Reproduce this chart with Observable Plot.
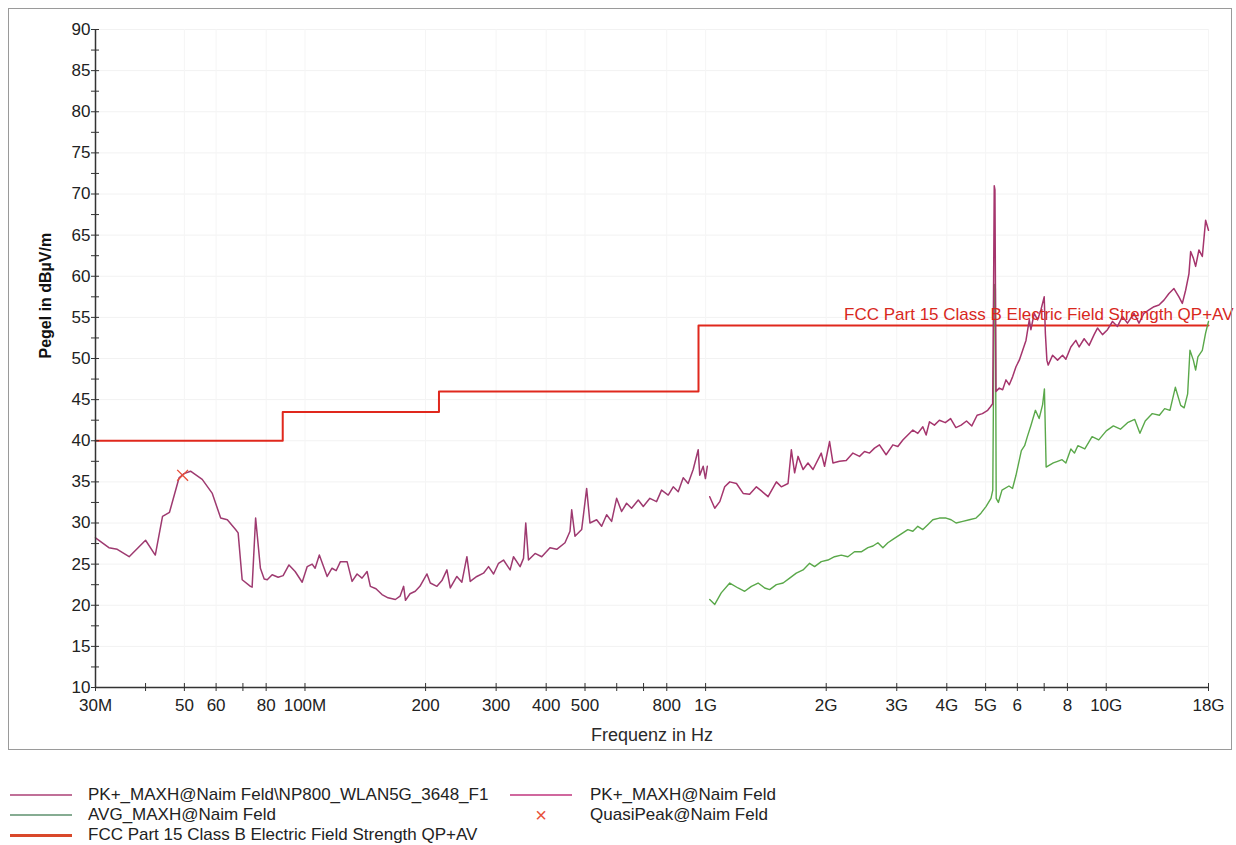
<!DOCTYPE html>
<html><head><meta charset="utf-8">
<script src="https://cdn.jsdelivr.net/npm/d3@7"></script>
<script src="https://cdn.jsdelivr.net/npm/@observablehq/plot@0.6"></script>
<style>
body{margin:0;background:#fff;font-family:"Liberation Sans",Arial,sans-serif;}
#wrap{position:relative;width:1236px;height:845px;overflow:hidden;}
#chart{position:absolute;left:0;top:0;}
#border{position:absolute;left:8px;top:8px;width:1224px;height:742px;border:1px solid #9a9a9a;box-sizing:border-box;pointer-events:none;}
.leg{position:absolute;font-size:17px;line-height:20px;color:#222;white-space:nowrap;}
.sw{position:absolute;width:62px;}
.mk{position:absolute;font-size:20px;line-height:20px;width:20px;text-align:center;}
</style></head>
<body><div id="wrap"><div id="chart"></div><div id="border"></div><div id="legend"></div></div>
<script>
// ---- data (frequency in MHz, level in dBµV/m) ----
const pkLowFreq = [30,32.4,34.0,36.4,40.0,42.3,44.1,45.9,48.5,49.9,51.8,55.4,58.7,61.6,64.0,67.1,68.1,69.7,73.1,73.8,75.3,77.4,79.1,80.5,82.8,85.7,88.2,91.2,94.5,98.4,101.3,104.2,106.0,108.6,113.6,116.8,119.6,122.6,127.4,131.1,134.9,138.8,142.9,145.6,150.4,155.7,161.2,168.1,172.7,176.3,178.2,182.9,188.5,193.6,201.6,205.5,213.5,219.7,226.1,230.5,239.4,246.4,253.6,258.5,268.5,279.0,287.2,295.6,304.2,313.0,325.1,331.5,344.3,351.1,355.7,361.3,375.3,389.9,408.9,425.0,445.7,458.7,463.2,472.0,490.5,504.8,514.4,534.6,550.2,566.2,582.7,599.6,617.1,635.0,653.5,679.1,698.9,725.9,754.3,776.3,806.7,830.2,854.4,879.3,904.7,931.1,958.3,966.9,986.1,999,1010];
const pkLowVal = [28.2,27.0,26.8,25.9,27.9,26.1,30.8,31.3,35.5,36.0,36.3,35.3,33.6,30.6,30.4,29.2,28.8,23.1,22.3,22.2,30.6,24.5,23.2,23.1,23.7,23.4,23.6,24.9,24.1,22.8,24.7,25.0,24.5,26.1,23.5,24.5,24.2,25.3,25.3,22.9,23.8,23.3,24.1,22.3,22.0,21.3,20.9,20.7,21.1,22.3,20.6,21.4,21.7,22.3,23.8,22.7,22.3,23.0,24.3,22.1,23.5,22.8,25.9,22.9,23.5,23.9,24.7,23.8,25.1,25.5,24.3,25.9,24.7,25.7,30.0,25.5,26.3,25.9,27.0,26.8,27.6,29.0,31.6,28.4,29.2,34.2,30.0,30.4,29.6,31.0,30.2,33.0,31.4,32.4,31.8,32.8,32.0,33.0,32.6,34.0,33.4,34.4,33.8,35.5,34.8,36.5,38.9,35.8,36.9,35.4,36.9];

const pkHighFreq = [1024,1054,1085,1116,1149,1194,1241,1288,1339,1378,1432,1502,1545,1606,1637,1668,1701,1751,1801,1854,1944,1981,2039,2079,2159,2244,2332,2422,2493,2566,2640,2716,2822,2934,3019,3107,3197,3291,3386,3485,3552,3620,3725,3833,3965,4088,4214,4344,4480,4618,4761,4908,5059,5135,5206,5236,5254,5275,5306,5408,5514,5620,5728,5841,5953,6067,6187,6305,6426,6486,6610,6741,6870,7001,7049,7110,7163,7346,7560,7780,7929,8160,8397,8558,8807,9063,9327,9510,9787,10072,10366,10667,10977,11297,11731,12073,12424,12786,13158,13541,13935,14341,14758,15188,15488,15783,16086,16244,16497,16717,17036,17372,17704,18000];
const pkHighVal = [33.2,31.8,32.6,34.4,35.0,34.8,33.6,33.5,34.4,33.9,33.2,35.0,34.4,34.8,38.9,36.1,38.1,36.5,37.3,36.5,38.5,36.9,39.9,37.3,37.5,37.6,38.5,38.1,38.7,38.5,39.1,39.5,38.3,39.5,39.3,40.1,40.7,41.3,40.9,41.7,40.7,42.3,41.9,42.5,42.2,42.7,41.6,41.9,42.4,41.8,43.1,43.3,43.7,44.1,44.5,60.0,71.0,70.5,46.0,46.4,46.2,47.4,46.8,47.8,49.0,49.8,51.0,52.2,54.7,53.5,55.5,54.7,55.9,57.5,53.0,49.8,49.2,50.4,49.8,50.4,49.9,51.4,52.2,51.4,52.4,51.6,52.9,53.7,52.9,53.5,54.5,53.9,55.1,54.3,55.5,54.3,55.5,55.9,56.3,56.5,57.1,57.9,58.5,57.5,56.7,58.3,60.3,63.0,62.2,61.2,63.2,62.4,66.8,65.6];

const avgFreq = [1024,1054,1094,1149,1205,1252,1301,1352,1404,1445,1502,1561,1621,1684,1751,1818,1871,1944,2020,2098,2181,2266,2353,2446,2542,2616,2692,2770,2851,2934,3019,3107,3197,3291,3386,3485,3586,3691,3833,3983,4100,4219,4384,4553,4731,4868,5010,5156,5210,5254,5288,5313,5380,5493,5718,5836,5953,6140,6256,6355,6481,6657,6800,6938,7010,7079,7377,7560,7758,7929,8160,8330,8495,8842,9219,9580,10002,10419,10851,11303,11774,12137,12512,13032,13572,13991,14422,14876,15340,15650,15967,16180,16497,16717,16937,17372,17704,18000];
const avgVal = [20.7,20.1,21.5,22.7,22.1,21.7,22.3,22.7,22.1,21.9,22.5,22.7,23.3,23.9,24.3,25.1,24.7,25.3,25.5,25.9,26.1,25.9,26.5,26.5,27.0,27.2,27.6,27.0,27.6,28.0,28.4,28.8,29.2,29.0,29.6,29.2,29.8,30.4,30.6,30.6,30.4,30.0,30.2,30.4,30.6,31.2,32.0,33.0,34.0,59.0,58.5,33.0,32.5,34.0,34.5,34.2,35.8,38.8,39.4,40.5,41.8,43.7,42.7,44.4,46.3,36.8,37.3,37.5,37.7,37.3,39.0,38.5,39.4,39.0,40.5,40.1,41.2,41.8,41.4,42.2,42.6,40.9,42.4,43.3,43.1,43.9,43.7,46.5,44.3,44.0,45.7,51.0,49.8,48.6,50.2,51.0,53.1,54.5];

const qpFreq = [49.5];
const qpVal = [35.8];

const limitFreq = [30, 88, 216, 960, 18000];
const limitVal = [40, 43.5, 46, 54, 54];
const limitName = "FCC Part 15 Class B Electric Field Strength QP+AV";

const xTicks = [30,40,50,60,70,80,100,200,300,400,500,600,700,800,1000,2000,3000,4000,5000,6000,7000,8000,10000,18000];
const xTickLabels = ["30M","","50","60","","80","100M","200","300","400","500","","","800","1G","2G","3G","4G","5G","6","","8","10G","18G"];
const yMajor = [10,15,20,25,30,35,40,45,50,55,60,65,70,75,80,85,90];
const yMinor = [12.5,17.5,22.5,27.5,32.5,37.5,42.5,47.5,52.5,57.5,62.5,67.5,72.5,77.5,82.5,87.5];

const legendItems = [
  {label: "PK+_MAXH@Naim Feld\\NP800_WLAN5G_3648_F1", color: "#c07098", kind: "line", col: 0, row: 0},
  {label: "PK+_MAXH@Naim Feld", color: "#d0689e", kind: "line", col: 1, row: 0},
  {label: "AVG_MAXH@Naim Feld", color: "#86ac92", kind: "line", col: 0, row: 1},
  {label: "QuasiPeak@Naim Feld", color: "#e8503a", kind: "x", col: 1, row: 1},
  {label: limitName, color: "#d9482a", kind: "thick", col: 0, row: 2}
];

// ---- build ----
const zip = (f, v) => f.map((d, i) => ({f: d, v: v[i]}));
const pkLow = zip(pkLowFreq, pkLowVal);
const pkHigh = zip(pkHighFreq, pkHighVal);
const avg = zip(avgFreq, avgVal);
const qp = zip(qpFreq, qpVal);
const limit = zip(limitFreq, limitVal);
const xLabels = xTicks.map((d, i) => ({f: d, label: xTickLabels[i]})).filter(d => d.label !== "");
const font = "'Liberation Sans', Arial, sans-serif";

const chart = Plot.plot({
  width: 1236, height: 760,
  marginLeft: 95, marginRight: 28, marginTop: 29, marginBottom: 73,
  style: {fontFamily: font, fontSize: "17px", color: "#2a2a2a", background: "#fff"},
  x: {type: "log", domain: [30, 18000]},
  y: {domain: [10, 90]},
  marks: [
    Plot.gridY(yMajor, {stroke: "#f2f2f2", strokeOpacity: 1}),
    Plot.gridX(xTicks.filter((d, i) => xTickLabels[i] !== ""), {stroke: "#f5f5f5", strokeOpacity: 1}),
    Plot.line(limit, {x: "f", y: "v", curve: "step-after", stroke: "#e0281d", strokeWidth: 2}),
    Plot.line(avg, {x: "f", y: "v", stroke: "#5aa84a", strokeWidth: 1.4}),
    Plot.line(pkLow, {x: "f", y: "v", stroke: "#9e3a70", strokeWidth: 1.5}),
    Plot.line(pkHigh, {x: "f", y: "v", stroke: "#a5356d", strokeWidth: 1.5}),
    Plot.dot(qp, {x: "f", y: "v", symbol: "times", r: 5, stroke: "#e8503a", strokeWidth: 1.4}),
    Plot.text([limit[limit.length - 1]], {x: "f", y: "v", text: () => limitName, textAnchor: "end", dx: 25, dy: -11, fill: "#d8281d", fontSize: 17}),
    Plot.ruleX([30], {y1: 10, y2: 90, stroke: "#333", strokeWidth: 1.5}),
    Plot.ruleY([10], {stroke: "#333", strokeWidth: 1.5}),
    Plot.axisY(yMajor, {tickSize: 8, dx: 4, tickPadding: 1, label: null, fontSize: 17, stroke: "#333", fill: "#222"}),
    Plot.axisY(yMinor, {tickSize: 8, dx: 4, tickFormat: () => "", label: null, stroke: "#333"}),
    Plot.axisX(xTicks, {tickSize: 8, dy: -4, tickFormat: () => "", label: null, stroke: "#333"}),
    Plot.text(xLabels, {x: "f", text: "label", frameAnchor: "bottom", dy: 23, fontSize: 17, fill: "#222"}),
    Plot.text(["Pegel in dBµV/m"], {frameAnchor: "left", dx: -50, rotate: -90, fontWeight: "bold", fontSize: 16, fill: "#111"}),
    Plot.text(["Frequenz in Hz"], {frameAnchor: "bottom", dy: 53, fontSize: 18, fill: "#2a2a2a"})
  ]
});
document.getElementById("chart").appendChild(chart);

// ---- legend ----
const leg = document.getElementById("legend");
const colX = [{sw: 10, tx: 88}, {sw: 510, tx: 590}];
legendItems.forEach(it => {
  const top = 785 + it.row * 20;
  const c = colX[it.col];
  if (it.kind === "x") {
    const m = document.createElement("div");
    m.className = "mk"; m.style.left = (c.sw + 21) + "px"; m.style.top = top + "px";
    m.style.color = it.color; m.textContent = "×";
    leg.appendChild(m);
  } else {
    const s = document.createElement("div");
    const h = it.kind === "thick" ? 3 : 2;
    s.className = "sw"; s.style.left = c.sw + "px"; s.style.top = (top + 10 - h / 2) + "px";
    s.style.height = h + "px"; s.style.background = it.color;
    leg.appendChild(s);
  }
  const t = document.createElement("div");
  t.className = "leg"; t.style.left = c.tx + "px"; t.style.top = top + "px";
  t.textContent = it.label;
  leg.appendChild(t);
});
</script>
</body></html>
